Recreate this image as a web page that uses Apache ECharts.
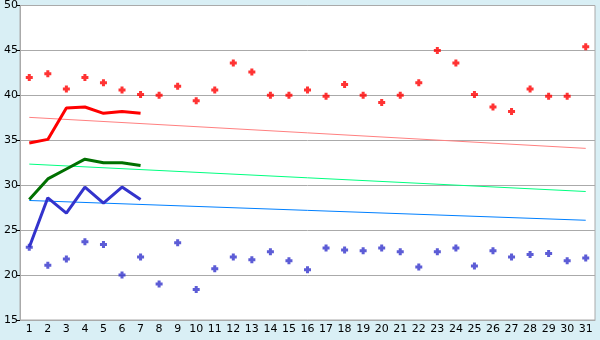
<!DOCTYPE html>
<html>
<head>
<meta charset="utf-8">
<script src="https://cdn.jsdelivr.net/npm/echarts@6/dist/echarts.min.js"></script>
<style>
  html, body { margin: 0; padding: 0; background: #d9eff5; }
  #chart { width: 600px; height: 340px; }
</style>
</head>
<body>
<div id="chart"></div>
<script>
const days = ['1','2','3','4','5','6','7','8','9','10','11','12','13','14','15','16','17','18','19','20','21','22','23','24','25','26','27','28','29','30','31'];

const highPoints = [42.0, 42.4, 40.7, 42.0, 41.4, 40.6, 40.1, 40.0, 41.0, 39.4, 40.6, 43.6, 42.6, 40.0, 40.0, 40.6,
  39.9, 41.2, 40.0, 39.2, 40.0, 41.4, 45.0, 43.6, 40.1, 38.7, 38.2, 40.7, 39.9, 39.9, 45.4];
const lowPoints = [23.1, 21.1, 21.8, 23.7, 23.4, 20.0, 22.0, 19.0, 23.6, 18.4, 20.7, 22.0, 21.7, 22.6, 21.6, 20.6,
  23.0, 22.8, 22.7, 23.0, 22.6, 20.9, 22.6, 23.0, 21.0, 22.7, 22.0, 22.3, 22.4, 21.6, 21.9];

const redLine = [34.7, 35.1, 38.6, 38.7, 38.0, 38.2, 38.0];
const greenLine = [28.4, 30.7, 31.8, 32.9, 32.5, 32.5, 32.2];
const blueLine = [23.1, 28.6, 26.9, 29.8, 28.0, 29.8, 28.4];

// trend lines: value at first day, value at last day
const redTrend = [37.55, 34.1];
const greenTrend = [32.35, 29.3];
const blueTrend = [28.3, 26.1];

const yTicks = { min: 15, max: 50, step: 5 };

// fat plus marker
const plus = 'path://M2,0H5V2H7V5H5V7H2V5H0V2H2Z';
const first = days[0], last = days[days.length - 1];

const chart = echarts.init(document.getElementById('chart'));

const trend = (vals, color) => ({
  type: 'line',
  data: [[first, vals[0]], [last, vals[1]]],
  symbol: 'none',
  lineStyle: { color: color, width: 1 },
  silent: true,
  z: 1
});

const thick = (vals, color) => ({
  type: 'line',
  data: vals,
  symbol: 'none',
  lineStyle: { color: color, width: 3 },
  z: 3
});

const dots = (vals, color) => ({
  type: 'scatter',
  data: vals,
  symbol: plus,
  symbolSize: 7,
  itemStyle: { color: color },
  z: 4
});

chart.setOption({
  backgroundColor: '#d9eff5',
  animation: false,
  grid: {
    left: 20, top: 5, right: 5, bottom: 20,
    show: true, backgroundColor: '#ffffff', borderColor: '#aaaaaa', borderWidth: 1
  },
  xAxis: {
    type: 'category',
    data: days,
    boundaryGap: true,
    axisLine: { lineStyle: { color: '#aaaaaa' } },
    axisTick: { alignWithLabel: true, length: 5, lineStyle: { color: '#000' } },
    axisLabel: { color: '#000', fontFamily: 'DejaVu Sans', fontSize: 11, margin: 4, interval: 0 },
    splitLine: { show: false }
  },
  yAxis: {
    type: 'value',
    min: yTicks.min, max: yTicks.max, interval: yTicks.step,
    axisLine: { show: true, lineStyle: { color: '#aaaaaa' } },
    axisTick: { show: true, length: 3, lineStyle: { color: '#000' } },
    axisLabel: { color: '#000', fontFamily: 'DejaVu Sans', fontSize: 11, margin: 2 },
    splitLine: { lineStyle: { color: '#aaaaaa' } }
  },
  series: [
    trend(redTrend, '#ff8080'),
    trend(greenTrend, '#00ff80'),
    trend(blueTrend, '#0080ff'),
    thick(redLine, '#ff0000'),
    thick(greenLine, '#007000'),
    thick(blueLine, '#3333cc'),
    dots(highPoints, '#ff0000'),
    dots(lowPoints, '#3333cc')
  ]
});
</script>
</body>
</html>
